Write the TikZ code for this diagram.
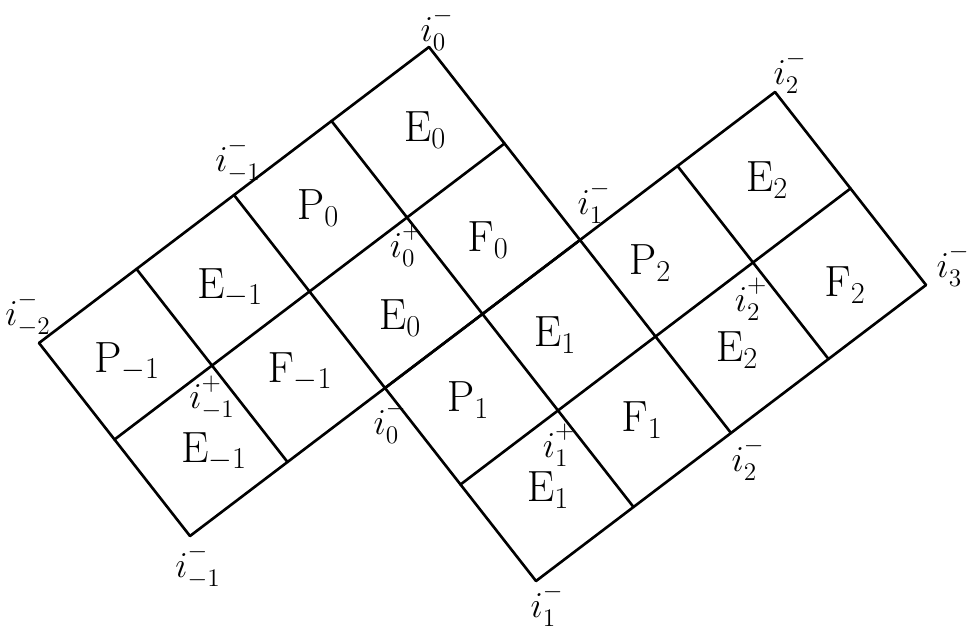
\documentclass[tikz,border=0pt]{standalone}
\newcommand{\upmark}[1]{\raisebox{3pt}{$\scriptstyle#1$}}
\begin{document}
\begin{tikzpicture}[x=0.02cm, y=-0.02cm, line width=1.5pt, line cap=round,
  clab/.style={font=\fontsize{25}{30}\selectfont},
  vlab/.style={font=\fontsize{20}{24}\selectfont, inner sep=1pt}]
\useasboundingbox (0,0) rectangle (972,629);
% lattice points
\foreach \a in {0,...,6}
  \foreach \b in {0,...,4}
    \coordinate (g\a\b) at ({39+97.5*\a+75.5*\b},{343-74*\a+96.5*\b});
% left block
\foreach \a in {0,...,4} \draw (g\a0) -- (g\a2);
\foreach \b in {0,...,2} \draw (g0\b) -- (g4\b);
% right block
\foreach \a in {2,...,6} \draw (g\a2) -- (g\a4);
\foreach \b in {2,...,4} \draw (g2\b) -- (g6\b);

% cells
\node[clab] (pm1)  at (127,362) {$\mathrm{P}_{-1}$};
\node[clab] (em1b) at (214,452) {$\mathrm{E}_{-1}$};
\node[clab] (em1a) at (230,288) {$\mathrm{E}_{-1}$};
\node[clab] (fm1)  at (300,372) {$\mathrm{F}_{-1}$};
\node[clab] (p0)   at (318,208) {$\mathrm{P}_{0}$};
\node[clab] (e0a)  at (425,130) {$\mathrm{E}_{0}$};
\node[clab] (e0b)  at (400,318) {$\mathrm{E}_{0}$};
\node[clab] (f0)   at (488,240) {$\mathrm{F}_{0}$};
\node[clab] (p1)   at (468,400) {$\mathrm{P}_{1}$};
\node[clab] (e1a)  at (555,335) {$\mathrm{E}_{1}$};
\node[clab] (e1b)  at (548,490) {$\mathrm{E}_{1}$};
\node[clab] (f1)   at (642,420) {$\mathrm{F}_{1}$};
\node[clab] (p2)   at (650,263) {$\mathrm{P}_{2}$};
\node[clab] (e2a)  at (767,180) {$\mathrm{E}_{2}$};
\node[clab] (e2b)  at (737,350) {$\mathrm{E}_{2}$};
\node[clab] (f2)   at (845,285) {$\mathrm{F}_{2}$};

% vertex labels
\node[vlab] (im2)   at (28,314)  {$i^{\upmark{-}}_{-2}$};
\node[vlab] (im1t)  at (238,160) {$i^{\upmark{-}}_{-1}$};
\node[vlab] (i0t)   at (437,29)  {$i^{\upmark{-}}_{0}$};
\node[vlab] (i0p)   at (406,245) {$i^{\upmark{+}}_{0}$};
\node[vlab] (im1p)  at (212,398) {$i^{\upmark{+}}_{-1}$};
\node[vlab] (im1b)  at (198,566) {$i^{\upmark{-}}_{-1}$};
\node[vlab] (i0m)   at (390,422) {$i^{\upmark{-}}_{0}$};
\node[vlab] (i1t)   at (594,202) {$i^{\upmark{-}}_{1}$};
\node[vlab] (i1p)   at (559,445) {$i^{\upmark{+}}_{1}$};
\node[vlab] (i1b)   at (547,605) {$i^{\upmark{-}}_{1}$};
\node[vlab] (i2t)   at (790,72)  {$i^{\upmark{-}}_{2}$};
\node[vlab] (i2p)   at (751,299) {$i^{\upmark{+}}_{2}$};
\node[vlab] (i2b)   at (748,459) {$i^{\upmark{-}}_{2}$};
\node[vlab] (i3)    at (953,265) {$i^{\upmark{-}}_{3}$};
\end{tikzpicture}
\end{document}
